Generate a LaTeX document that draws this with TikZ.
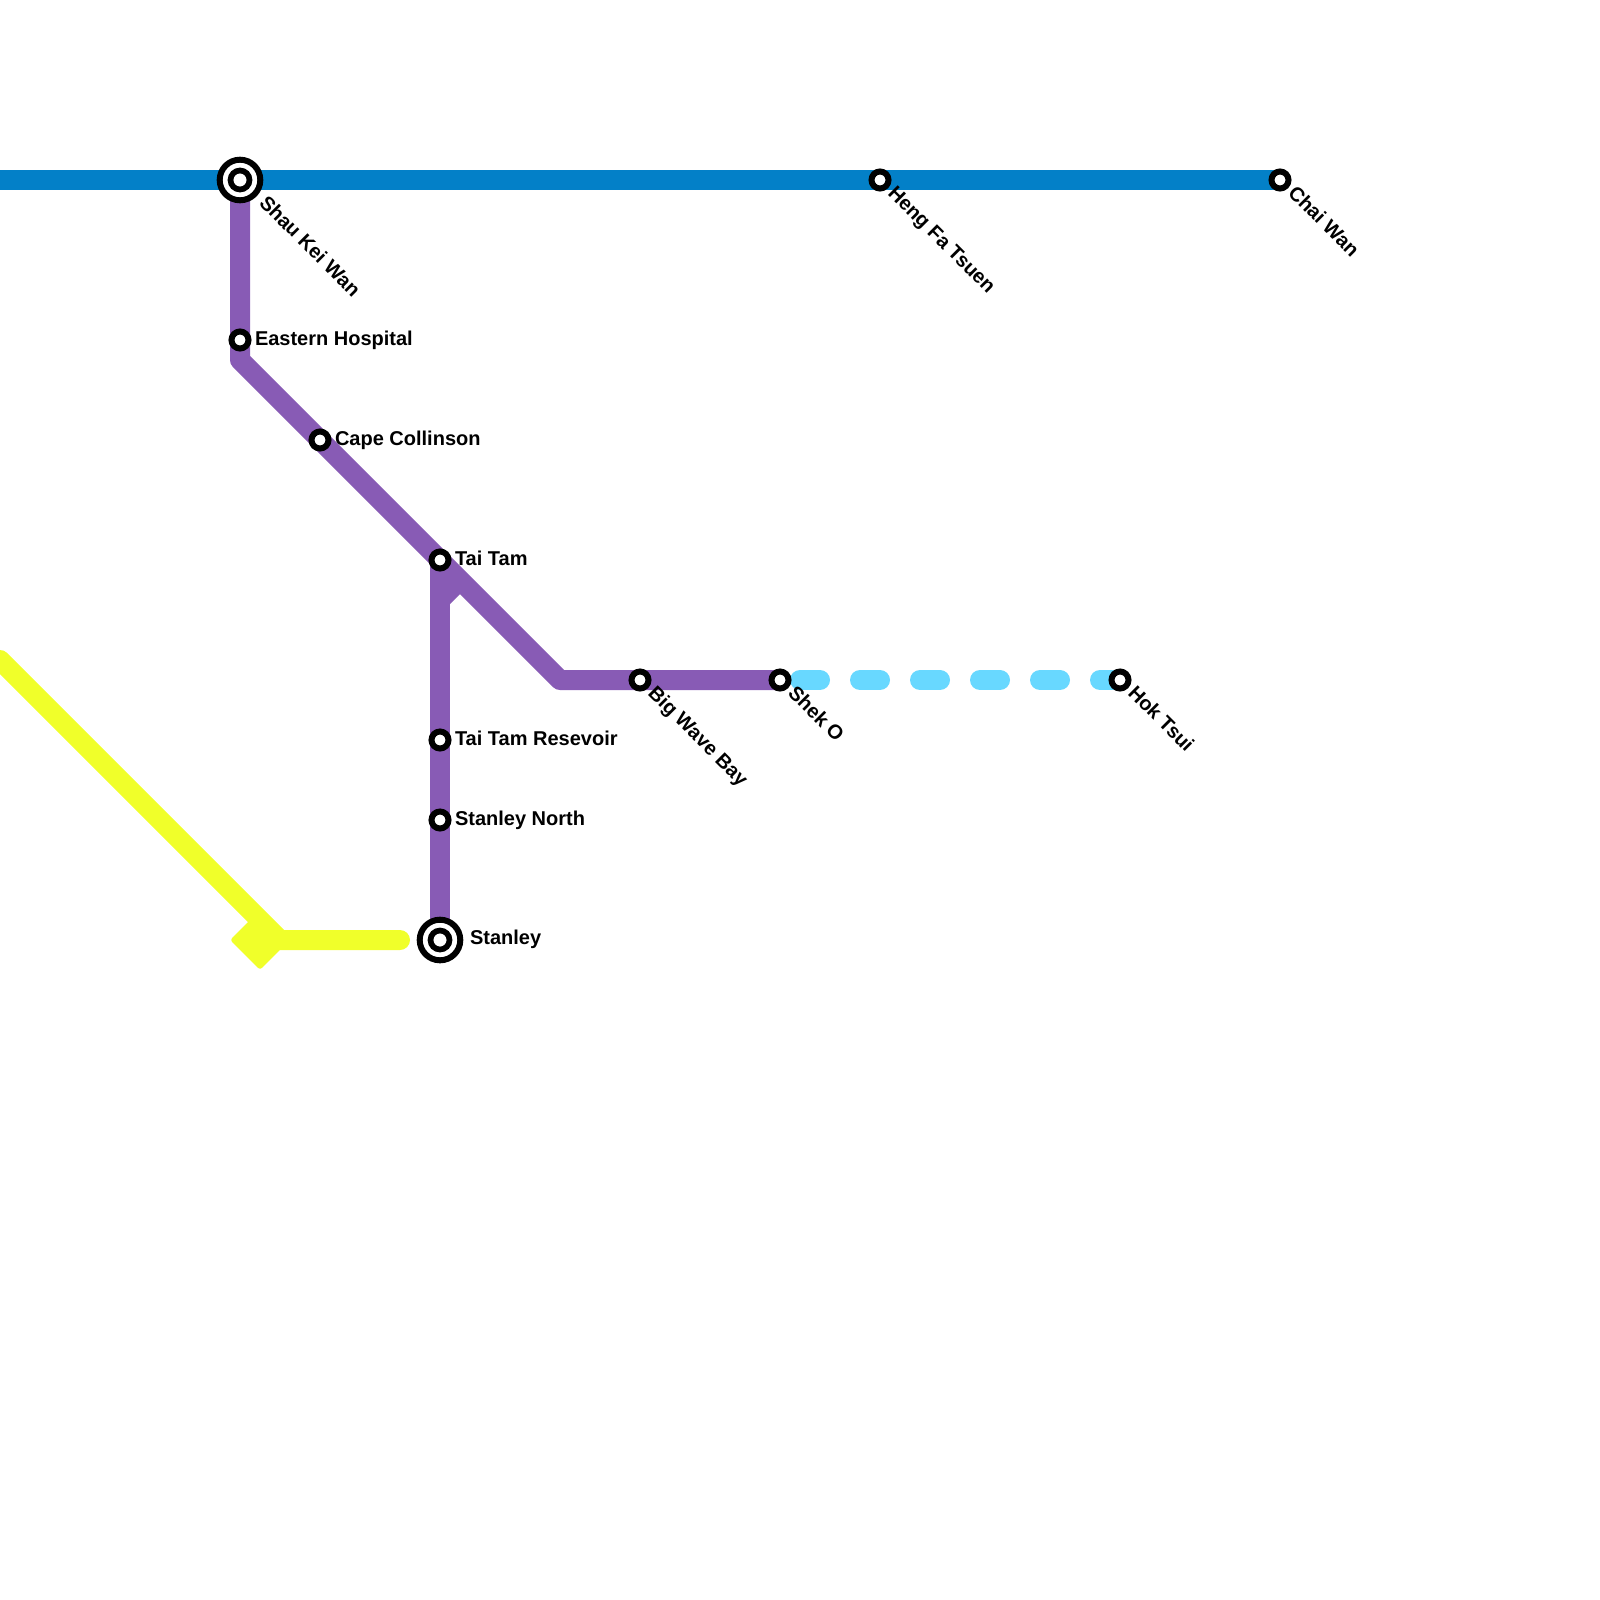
\documentclass[tikz,border=0pt]{standalone}
\usepackage{fontspec}
\setmainfont{Liberation Sans}
\usetikzlibrary{calc}
\pgfdeclarelayer{bg}
\pgfsetlayers{bg,main}
\definecolor{islandblue}{RGB}{3,128,200}
\definecolor{southpurple}{RGB}{136,91,181}
\definecolor{limeyellow}{RGB}{240,255,42}
\definecolor{skyblue}{RGB}{104,216,255}
\begin{document}
\begin{tikzpicture}[x=1pt,y=-1pt,
  station/.style={circle,draw=black,fill=white,line width=6pt,minimum size=17pt,inner sep=0pt,outer sep=0pt},
  interchange/.style={circle,draw=black,fill=white,line width=6pt,minimum size=40.6pt,inner sep=0pt,outer sep=0pt,
     path picture={\draw[black,line width=5.7pt] (path picture bounding box.center) circle[radius=9.5pt];}},
  lbl/.style={font=\fontsize{20}{24}\selectfont\bfseries, inner sep=0pt, outer sep=0pt, anchor=base west, text=black},
  rlbl/.style={lbl, rotate=-45},
  metro/.style={line width=20pt, line join=round},
]
\useasboundingbox (0,0) rectangle (1600,1600);

% bend points and free ends
\coordinate (bw) at (0,180);
\coordinate (p1) at (240,360);
\coordinate (p2) at (560,680);
\coordinate (p3) at (460,580);
\coordinate (p4) at (440,600);
\coordinate (y0) at (0,660);
\coordinate (y1) at (280,940);
\coordinate (y2) at (400,940);

% stations
\node[interchange] (SKW) at (240,180) {};
\node[station] (HFT) at (880,180) {};
\node[station] (CW) at (1280,180) {};
\node[station] (EH) at (240,340) {};
\node[station] (CC) at (320,440) {};
\node[station] (TT) at (440,560) {};
\node[station] (BWB) at (640,680) {};
\node[station] (SO) at (780,680) {};
\node[station] (HT) at (1120,680) {};
\node[station] (TTR) at (440,740) {};
\node[station] (SN) at (440,820) {};
\node[interchange] (ST) at (440,940) {};

% labels
\node[rlbl] (lSKW) at ($(SKW.center)+(18.4,24)$) {Shau Kei Wan};
\node[rlbl] (lHFT) at ($(HFT.center)+(7.1,14.1)$) {Heng Fa Tsuen};
\node[rlbl] (lCW) at ($(CW.center)+(7.1,14.1)$) {Chai Wan};
\node[rlbl] (lBWB) at ($(BWB.center)+(7.1,14.1)$) {Big Wave Bay};
\node[rlbl] (lSO) at ($(SO.center)+(7.1,14.1)$) {Shek O};
\node[rlbl] (lHT) at ($(HT.center)+(7.1,14.1)$) {Hok Tsui};
\node[lbl] (lEH) at ($(EH.center)+(15,5)$) {Eastern Hospital};
\node[lbl] (lCC) at ($(CC.center)+(15,5)$) {Cape Collinson};
\node[lbl] (lTT) at ($(TT.center)+(15,5)$) {Tai Tam};
\node[lbl] (lTTR) at ($(TTR.center)+(15,5)$) {Tai Tam Resevoir};
\node[lbl] (lSN) at ($(SN.center)+(15,5)$) {Stanley North};
\node[lbl] (lST) at ($(ST.center)+(30,4)$) {Stanley};

\begin{pgfonlayer}{bg}
  \draw[metro, islandblue] (bw) -- (CW.center);
  \draw[metro, limeyellow, line cap=round] (y0) -- (y1) -- (y2);
  \node[fill=limeyellow, minimum size=42.4pt, rotate=45, rounded corners=3pt, inner sep=0pt, outer sep=0pt] (ydia) at (260,940) {};
  \draw[metro, southpurple] (SKW.center) -- (p1) -- (p2) -- (SO.center);
  \draw[metro, southpurple] (TT.center) -- (ST.center);
  \draw[metro, southpurple] (p3) -- (p4);
  \draw[metro, skyblue, line cap=round, dash pattern=on 20pt off 40pt] (HT.center) -- (SO.center);
\end{pgfonlayer}
\end{tikzpicture}
\end{document}
